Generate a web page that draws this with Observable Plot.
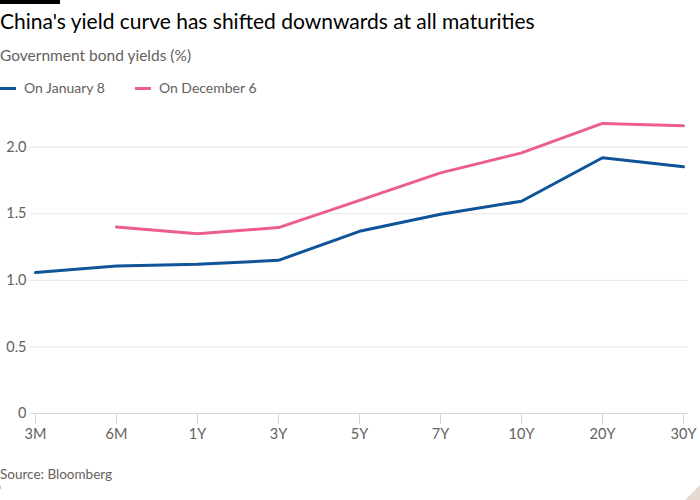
<!DOCTYPE html>
<html>
<head>
<meta charset="utf-8">
<script src="https://cdn.jsdelivr.net/npm/d3@7"></script>
<script src="https://cdn.jsdelivr.net/npm/@observablehq/plot@0.6"></script>
<style>
  html, body { margin: 0; padding: 0; background: #ffffff; }
  body { width: 700px; height: 500px; position: relative; overflow: hidden; font-family: Lato, "Noto Sans", sans-serif; }
  .bar { position: absolute; left: 0; top: 0; width: 60px; height: 4px; background: #000; }
  .title { position: absolute; left: 0; top: 8px; font-size: 21px; line-height: 26px; color: #000; }
  .subtitle { position: absolute; left: 0; top: 45px; font-size: 15.5px; line-height: 20px; color: #66605c; }
  .legend { position: absolute; left: 0; top: 79px; font-size: 14px; line-height: 18px; color: #66605c; display: flex; }
  .legend .item { display: flex; align-items: center; margin-right: 0; }
  .legend .sw { width: 16px; height: 3px; margin-right: 8px; }
  #chart { position: absolute; left: 0; top: 100px; }
  .source { position: absolute; left: 0; top: 465px; font-size: 13.5px; line-height: 18px; color: #66605c; }
  .corner { position: absolute; right: 0; bottom: 0; width: 0; height: 0; border-left: 15px solid transparent; border-bottom: 15px solid #e6d9ce; }
  .nub { position: absolute; left: 0; top: 486px; width: 1px; height: 3px; background: #ccc1b7; }
</style>
</head>
<body>
<div class="bar"></div>
<div class="title">China's yield curve has shifted downwards at all maturities</div>
<div class="subtitle">Government bond yields (%)</div>
<div class="legend" id="legend"></div>
<div id="chart"></div>
<div class="source">Source: Bloomberg</div>
<div class="nub"></div>
<div class="corner"></div>
<script>
const maturities = ["3M", "6M", "1Y", "3Y", "5Y", "7Y", "10Y", "20Y", "30Y"];
const january8 = [1.058, 1.107, 1.12, 1.15, 1.368, 1.496, 1.594, 1.92, 1.852];
const december6 = [null, 1.40, 1.35, 1.396, 1.60, 1.807, 1.957, 2.178, 2.16];
const seriesNames = ["On January 8", "On December 6"];
const seriesColors = ["#0f5499", "#eb5e8d"];
const yTicks = [0, 0.5, 1, 1.5, 2];

const rows = [];
maturities.forEach((m, i) => {
  rows.push({maturity: m, value: january8[i], series: seriesNames[0]});
  if (december6[i] != null) rows.push({maturity: m, value: december6[i], series: seriesNames[1]});
});

// legend
const legend = document.getElementById("legend");
seriesNames.forEach((name, i) => {
  const item = document.createElement("div");
  item.className = "item";
  item.style.marginRight = i === 0 ? "30px" : "0";
  const sw = document.createElement("span");
  sw.className = "sw";
  sw.style.background = seriesColors[i];
  const t = document.createElement("span");
  t.textContent = name;
  item.appendChild(sw);
  item.appendChild(t);
  legend.appendChild(item);
});

const chart = Plot.plot({
  width: 700,
  height: 350,
  marginLeft: 35,
  marginRight: 17,
  marginTop: 20,
  marginBottom: 37,
  style: {fontFamily: "Lato, 'Noto Sans', sans-serif", fontSize: "14px", color: "#66605c", background: "transparent", overflow: "visible"},
  x: {type: "point", domain: maturities, padding: 0, label: null},
  y: {domain: [0, 2.2], label: null},
  color: {domain: seriesNames, range: seriesColors},
  marks: [
    Plot.ruleY(yTicks.filter(d => d !== 0), {stroke: "#ece6e0", strokeWidth: 1, insetLeft: -5, insetRight: -5}),
    Plot.ruleY([0], {stroke: "#dcd4cc", strokeWidth: 1, insetLeft: -5, insetRight: -5}),
    Plot.axisY({ticks: yTicks, tickSize: 0, tickPadding: 9, tickFormat: d => d === 0 ? "0" : d3.format(".1f")(d), label: null, fill: "#66605c", fontSize: 14.5}),
    Plot.axisX({tickSize: 11, tickPadding: 4, stroke: "#dcd4cc", label: null, fill: "#66605c", fontSize: 14.5}),
    Plot.line(rows, {x: "maturity", y: "value", z: "series", stroke: "series", strokeWidth: 3, curve: "linear"})
  ]
});
document.getElementById("chart").appendChild(chart);
</script>
</body>
</html>
